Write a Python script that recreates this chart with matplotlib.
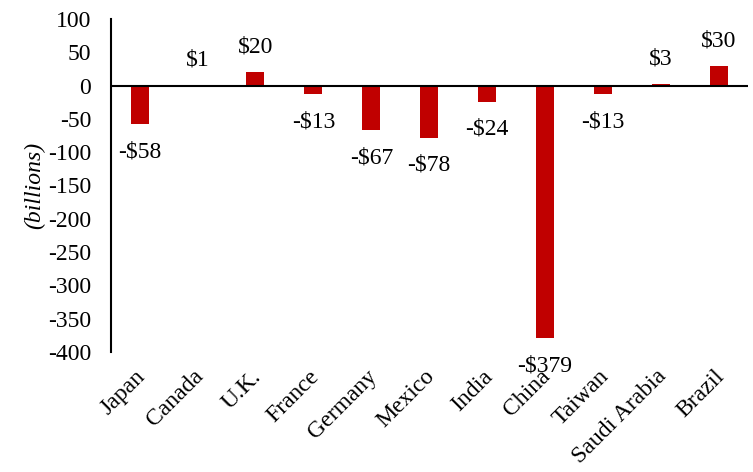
import numpy as np
import matplotlib.pyplot as plt
import matplotlib.transforms as mtransforms

countries = ['Japan', 'Canada', 'U.K.', 'France', 'Germany', 'Mexico',
             'India', 'China', 'Taiwan', 'Saudi Arabia', 'Brazil']
balance = [-58, 1, 20, -13, -67, -78, -24, -379, -13, 3, 30]
yticks = [100, 50, 0, -50, -100, -150, -200, -250, -300, -350, -400]

plt.rcParams['font.family'] = ['Liberation Serif', 'DejaVu Serif']
plt.rcParams['axes.unicode_minus'] = False

fig = plt.figure(figsize=(7.53, 4.72), dpi=100)
ax = fig.add_axes([0.147, 0.254, 0.846, 0.706])

x = np.arange(len(countries))
ax.bar(x, balance, width=0.31, color='#C00000', zorder=2)
ax.axhline(0, color='black', lw=1.5, zorder=3)

for xi, v in zip(x, balance):
    lab = ('-$%d' % -v) if v < 0 else ('$%d' % v)
    off = -20 if v < 0 else 18
    ax.annotate(lab, (xi, v), xytext=(0, off), textcoords='offset points',
                ha='center', va='center', fontsize=17)

ax.set_xlim(-0.5, len(countries) - 0.5)
ax.set_ylim(-400, 100)
ax.set_yticks(yticks)
ax.tick_params(axis='y', length=0, labelsize=17, pad=14)
ax.set_xticks(x)
ax.set_xticklabels(countries, rotation=45, ha='right', rotation_mode='anchor', fontsize=17)
ax.tick_params(axis='x', length=0, pad=10)
shift = mtransforms.ScaledTranslation(-5 / 100, 0, fig.dpi_scale_trans)
for t in ax.get_xticklabels():
    t.set_transform(t.get_transform() + shift)
for s in ['top', 'right', 'bottom']:
    ax.spines[s].set_visible(False)
ax.spines['left'].set_linewidth(1.5)
ax.set_ylabel('(billions)', fontstyle='italic', fontsize=17, labelpad=2)

fig.savefig('out.png', dpi=100)
